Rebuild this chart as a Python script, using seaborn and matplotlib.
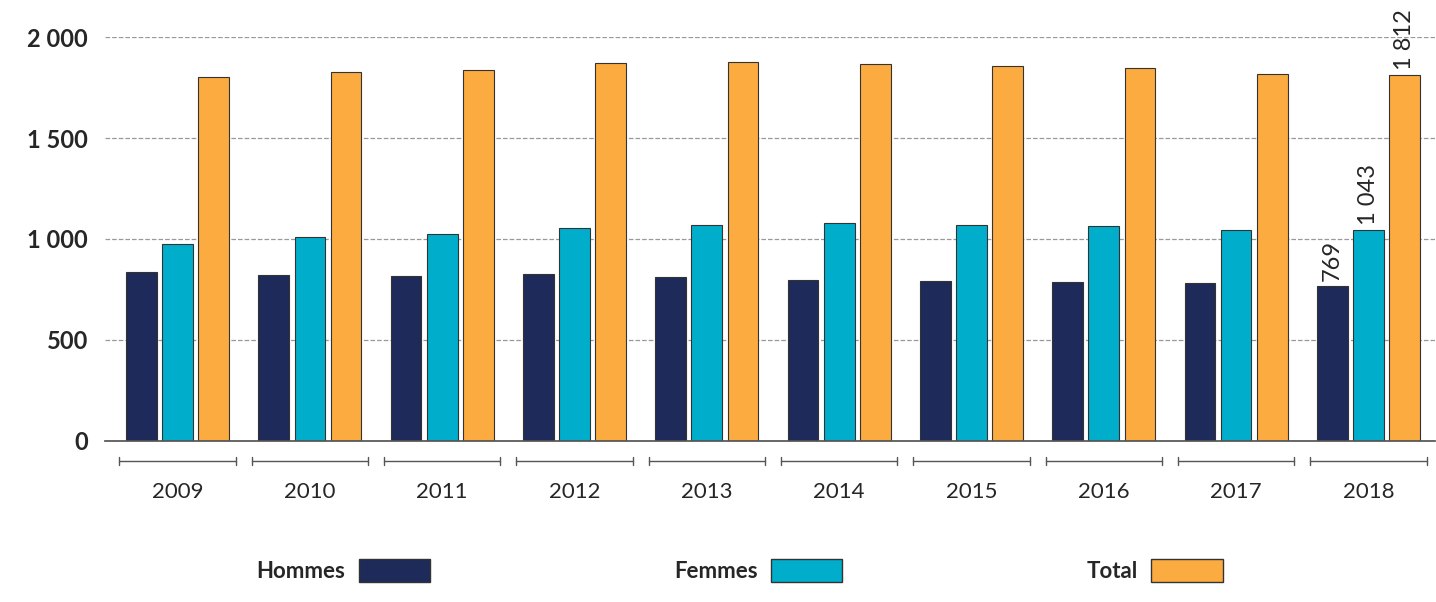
import matplotlib
matplotlib.use("Agg")
import matplotlib.pyplot as plt
import matplotlib.transforms as mtransforms
from matplotlib.patches import Patch
import seaborn as sns
import pandas as pd

years = ["2009","2010","2011","2012","2013","2014","2015","2016","2017","2018"]
hommes = [835, 820, 818, 826, 812, 797, 793, 787, 781, 769]
femmes = [975, 1010, 1025, 1055, 1070, 1080, 1070, 1062, 1045, 1043]
total = [1805, 1830, 1840, 1875, 1880, 1870, 1860, 1850, 1820, 1812]
series = ["Hommes", "Femmes", "Total"]
colors = ["#1e2a5a", "#00aecb", "#fbab3f"]

rows = []
for i, y in enumerate(years):
    for s, vals in zip(series, [hommes, femmes, total]):
        rows.append({"year": y, "serie": s, "val": vals[i]})
df = pd.DataFrame(rows)

sns.set_theme(style="white")
plt.rcParams["font.family"] = ["Lato", "DejaVu Sans"]
fig = plt.figure(figsize=(14.36, 6.02), dpi=100)
ax = fig.add_axes([0.073, 0.268, 0.926, 0.67])
sns.barplot(data=df, x="year", y="val", hue="serie", palette=colors, hue_order=series,
            saturation=1, width=0.82, gap=0.15, edgecolor="#333333", linewidth=0.8,
            legend=False, ax=ax)
ax.set_ylim(0, 2000)
ax.set_xlim(-0.55, 9.5)
ax.set_yticks([0, 500, 1000, 1500, 2000])
ax.set_yticklabels(["0", "500", "1 000", "1 500", "2 000"], fontsize=17, fontweight="bold")
ax.yaxis.grid(True, linestyle="--", color="#999999", linewidth=0.9)
ax.set_axisbelow(True)
for sp in ["top", "right", "left"]:
    ax.spines[sp].set_visible(False)
ax.spines["bottom"].set_color("#555555")
ax.set_xlabel(""); ax.set_ylabel("")
ax.tick_params(axis="x", length=0, pad=30, labelsize=16)
ax.tick_params(axis="y", length=0, pad=12)
trans = mtransforms.blended_transform_factory(ax.transData, ax.transAxes)
for i in range(len(years)):
    l, r = i - 0.44, i + 0.44
    ax.plot([l, r], [-0.05, -0.05], color="#555555", lw=1, transform=trans, clip_on=False)
    for xx in (l, r):
        ax.plot([xx, xx], [-0.04, -0.06], color="#555555", lw=1, transform=trans, clip_on=False)
last = {"Hommes": ("769", hommes[-1]), "Femmes": ("1 043", femmes[-1]), "Total": ("1 812", total[-1])}
w = 0.82 / 3
for k, s in enumerate(series):
    x = 9 + (k - 1) * w
    txt, v = last[s]
    ax.text(x, v + 25, txt, rotation=90, ha="center", va="bottom", fontsize=17, clip_on=False)
handles = [Patch(facecolor=c, edgecolor="#333333", label=s) for c, s in zip(colors, series)]
fig.legend(handles=handles, loc="lower center", bbox_to_anchor=(0.515, 0.0), ncol=3, frameon=False,
           markerfirst=False, handlelength=3.2, handleheight=1.2, handletextpad=0.6,
           columnspacing=11, prop={"size": 16, "weight": "bold"})
fig.savefig("out.png", dpi=100)
